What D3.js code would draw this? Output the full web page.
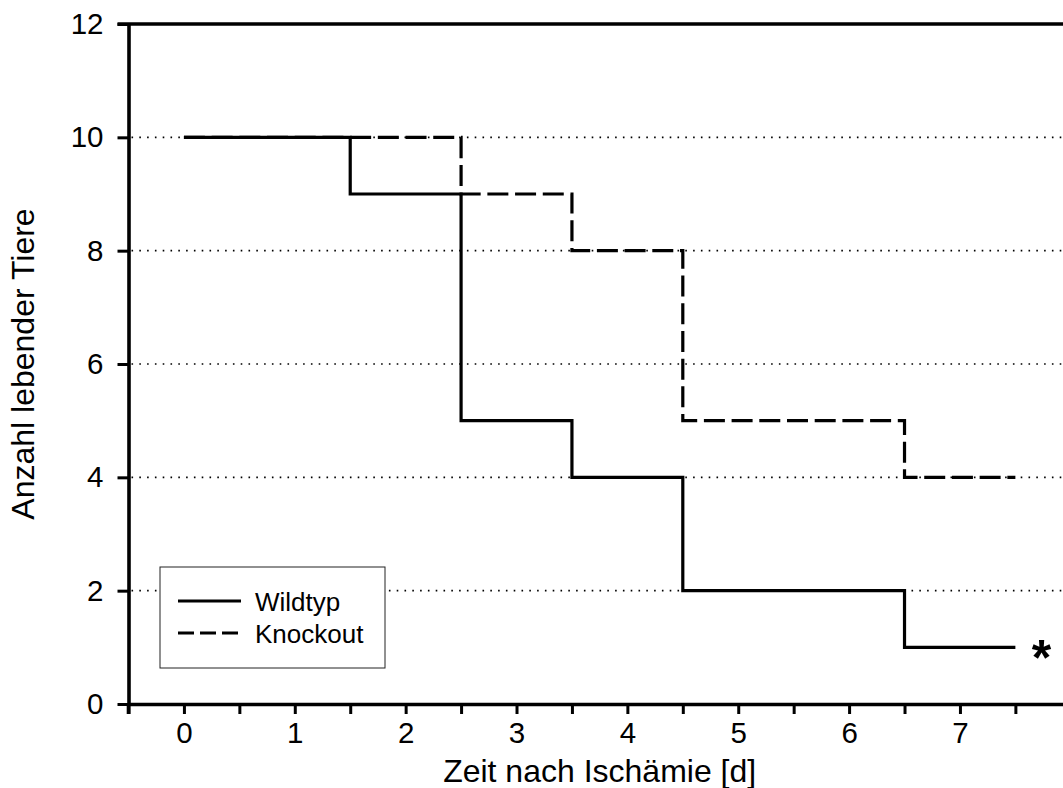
<!DOCTYPE html>
<html>
<head>
<meta charset="utf-8">
<script src="https://cdn.jsdelivr.net/npm/d3@7/dist/d3.min.js"></script>
<style>
  html, body { margin: 0; padding: 0; background: #fff; }
  svg { display: block; font-family: "Liberation Sans", Arial, sans-serif; }
</style>
</head>
<body>
<svg id="chart" width="1063" height="788"></svg>
<script>
// Survival counts after ischemia (Kaplan-Meier style step curves)
const wildDays   = [0, 1.5, 2.5, 3.5, 4.5, 6.5, 7.5];
const wildAlive  = [10, 9, 5, 4, 2, 1, 1];
const koDays     = [0, 2.5, 3.5, 4.5, 6.5, 7.5];
const koAlive    = [10, 9, 8, 5, 4, 4];

const yTicks     = [0, 2, 4, 6, 8, 10, 12];
const gridValues = [2, 4, 6, 8, 10];
const xTickVals  = [-0.5, 0, 0.5, 1, 1.5, 2, 2.5, 3, 3.5, 4, 4.5, 5, 5.5, 6, 6.5, 7, 7.5, 8];
const xLabelVals = [0, 1, 2, 3, 4, 5, 6, 7];

const seriesNames = ["Wildtyp", "Knockout"];
const xTitle = "Zeit nach Ischämie [d]";
const yTitle = "Anzahl lebender Tiere";

const svg = d3.select("#chart");

const x = d3.scaleLinear().domain([-0.5, 8]).range([128.5, 128.5 + 8.5 * 110.86]);
const y = d3.scaleLinear().domain([0, 12]).range([704, 24]);

// dotted horizontal grid
svg.append("g")
  .selectAll("line")
  .data(gridValues)
  .join("line")
  .attr("x1", x(-0.5) + 3)
  .attr("x2", x(8))
  .attr("y1", d => y(d))
  .attr("y2", d => y(d))
  .attr("stroke", "#000")
  .attr("stroke-width", 1.6)
  .attr("stroke-dasharray", "1.6,6.2");

// step curves
const line = d3.line()
  .x(d => x(d[0]))
  .y(d => y(d[1]))
  .curve(d3.curveStepAfter);

const koPts = koDays.map((d, i) => [d, koAlive[i]]);
const wildPts = wildDays.map((d, i) => [d, wildAlive[i]]);

svg.append("path")
  .datum(koPts)
  .attr("d", line)
  .attr("fill", "none")
  .attr("stroke", "#000")
  .attr("stroke-width", 3.2)
  .attr("stroke-dasharray", "21,6.7");

svg.append("path")
  .datum(wildPts)
  .attr("d", line)
  .attr("fill", "none")
  .attr("stroke", "#000")
  .attr("stroke-width", 3.2);

// significance marker at end of wild-type curve
svg.append("text")
  .attr("x", x(7.5) + 26)
  .attr("y", y(1) + 28)
  .attr("text-anchor", "middle")
  .attr("font-size", 50)
  .attr("font-weight", "bold")
  .text("*");

// top frame line
svg.append("line")
  .attr("x1", x(-0.5) - 11)
  .attr("x2", x(8))
  .attr("y1", y(12))
  .attr("y2", y(12))
  .attr("stroke", "#000")
  .attr("stroke-width", 3.6);

// y axis
const yAxis = svg.append("g")
  .attr("transform", `translate(${x(-0.5)},0)`)
  .call(d3.axisLeft(y).tickValues(yTicks).tickSize(11).tickSizeOuter(0).tickPadding(14));

// x axis
const xAxis = svg.append("g")
  .attr("transform", `translate(0,${y(0)})`)
  .call(d3.axisBottom(x).tickValues(xTickVals).tickSize(10).tickSizeOuter(0).tickPadding(8)
    .tickFormat(d => xLabelVals.includes(d) ? d3.format("d")(d) : ""));

[yAxis, xAxis].forEach(g => {
  g.select(".domain").attr("stroke", "#000").attr("stroke-width", 3.6);
  g.selectAll(".tick line").attr("stroke", "#000").attr("stroke-width", 3);
  g.selectAll(".tick text")
    .attr("fill", "#000")
    .attr("font-size", 29.5)
    .attr("font-family", "'Liberation Sans', Arial, sans-serif");
});

// extend the left axis down to the bottom tick length
svg.append("line")
  .attr("x1", x(-0.5)).attr("x2", x(-0.5))
  .attr("y1", y(0)).attr("y2", y(0) + 10)
  .attr("stroke", "#000").attr("stroke-width", 3.6);

// axis titles
svg.append("text")
  .attr("x", (x(-0.5) + x(8)) / 2)
  .attr("y", 782)
  .attr("text-anchor", "middle")
  .attr("font-size", 32)
  .text(xTitle);

svg.append("text")
  .attr("transform", `translate(34,${(y(0) + y(12)) / 2}) rotate(-90)`)
  .attr("text-anchor", "middle")
  .attr("font-size", 32)
  .text(yTitle);

// legend
const lg = svg.append("g").attr("transform", "translate(160,567)");
lg.append("rect")
  .attr("width", 225).attr("height", 101)
  .attr("fill", "#fff")
  .attr("stroke", "#222")
  .attr("stroke-width", 1);

const legendRows = [
  { name: seriesNames[0], dash: null, dy: 34 },
  { name: seriesNames[1], dash: "16,6", dy: 66 }
];
legendRows.forEach(r => {
  lg.append("line")
    .attr("x1", 18).attr("x2", 81)
    .attr("y1", r.dy).attr("y2", r.dy)
    .attr("stroke", "#000")
    .attr("stroke-width", 3.2)
    .attr("stroke-dasharray", r.dash);
  lg.append("text")
    .attr("x", 95)
    .attr("y", r.dy + 9.5)
    .attr("font-size", 26)
    .text(r.name);
});
</script>
</body>
</html>
